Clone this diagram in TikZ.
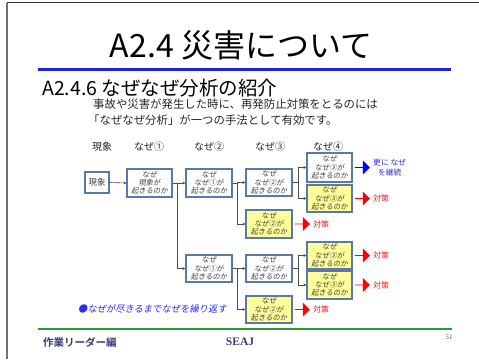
\documentclass[tikz,border=0pt]{standalone}
\usepackage{fontspec}
\setmainfont{Noto Sans CJK JP}
\newfontfamily\jpit[FakeSlant=0.18]{Noto Sans CJK JP}
\newfontfamily\jpbold{Noto Sans CJK JP Bold}
\newfontfamily\serifb{Liberation Serif}
\usetikzlibrary{arrows.meta,positioning,shapes.arrows}
\definecolor{boxline}{HTML}{5A78A8}
\definecolor{boxyel}{HTML}{FFFF99}
\definecolor{titleblue}{HTML}{1E1EE6}
\definecolor{footgreen}{HTML}{2E9A2E}
\definecolor{navy}{HTML}{3A3A78}
\definecolor{txtblue}{HTML}{2A2AF0}
\definecolor{txtred}{HTML}{F01E1E}
\tikzset{
  nbox/.style={draw=boxline, line width=1.1pt, fill=white, inner sep=0pt,
    minimum width=46pt, minimum height=28pt, align=center,
    font=\jpit\fontsize{7.3}{8.3}\selectfont, text=black!75},
  ybox/.style={nbox, fill=boxyel},
  conn/.style={draw=black!70, line width=0.6pt, -{Stealth[length=3pt,width=3pt]}},
  plain/.style={draw=black!70, line width=0.6pt},
  redarr/.style={single arrow, fill=red, draw=none, minimum height=15pt,
    minimum width=14pt, single arrow head extend=3pt, inner sep=0pt},
  bluearr/.style={redarr, fill=blue},
  taisaku/.style={text=txtred, font=\fontsize{8}{9}\selectfont, inner sep=0pt},
  hdr/.style={font=\fontsize{10}{12}\selectfont, text=black!85}
}
\begin{document}
\begin{tikzpicture}[x=1pt,y=-1pt]
\useasboundingbox (0,0) rectangle (479,359);
% frame
\draw[black!80, line width=1pt] (7,2.5) -- (479,2.5);
\draw[black!55, line width=1.5pt] (7,2.5) -- (7,359);
% title
\node[font=\fontsize{32}{36}\selectfont] (title) at (241,45) {A2.4 災害について};
\draw[titleblue, line width=3pt] (38,69.5) -- (451,69.5);
\node[font=\fontsize{19.5}{24}\selectfont, anchor=west, inner sep=0pt] (sub) at (42,88) {A2.4.6 なぜなぜ分析の紹介};
\node[font=\fontsize{11.4}{13}\selectfont, anchor=west, inner sep=0pt, text=black!85] (l1) at (93,104) {事故や災害が発生した時に、再発防止対策をとるのには};
\node[font=\fontsize{11.4}{13}\selectfont, anchor=west, inner sep=0pt, text=black!85] (l2) at (88,120) {「なぜなぜ分析」が一つの手法として有効です。};
% headers
\node[hdr] (h0) at (102,147) {現象};
\node[hdr] (h1) at (149,147) {なぜ①};
\node[hdr] (h2) at (209,147) {なぜ②};
\node[hdr] (h3) at (270,147) {なぜ③};
\node[hdr] (h4) at (328,147) {なぜ④};
% boxes
\node[nbox, minimum width=24pt, minimum height=21pt, font=\fontsize{8.5}{10}\selectfont] (G) at (97,182.5) {現象};
\node[nbox, minimum width=45pt] (A) at (149.5,183) {なぜ\\現象が\\起きるのか};
\node[nbox] (B1) at (209,183) {なぜ\\なぜ①が\\起きるのか};
\node[nbox, minimum height=27pt] (B2) at (209,268.5) {なぜ\\なぜ①が\\起きるのか};
\node[nbox, minimum height=27pt] (C1) at (269,182.5) {なぜ\\なぜ②が\\起きるのか};
\node[ybox] (C2) at (269,224) {なぜ\\なぜ②が\\起きるのか};
\node[nbox, minimum height=27pt] (C3) at (269,268.5) {なぜ\\なぜ②が\\起きるのか};
\node[ybox, minimum height=27pt] (C4) at (269,309.5) {なぜ\\なぜ②が\\起きるのか};
\node[nbox, minimum width=45pt, minimum height=29pt] (D1) at (329.5,167.5) {なぜ\\なぜ③が\\起きるのか};
\node[ybox, minimum width=45pt, minimum height=27pt] (D2) at (329.5,198.5) {なぜ\\なぜ③が\\起きるのか};
\node[ybox, minimum width=45pt, minimum height=27pt] (D3) at (329.5,255.5) {なぜ\\なぜ③が\\起きるのか};
\node[ybox, minimum width=45pt, minimum height=28pt] (D4) at (329.5,285) {なぜ\\なぜ③が\\起きるのか};
% connectors
\draw[conn] (G.east) -- (A.west);
\draw[conn] (A.east) -- (B1.west);
\draw[plain] (A.east) -- ++(5,0) coordinate (ja);
\draw[conn] (ja) |- (B2.west);
\draw[plain] (B1.east) -- ++(5,0) coordinate (jb1);
\draw[conn] (jb1) |- (C1.west);
\draw[conn] (jb1) |- (C2.west);
\draw[plain] (B2.east) -- ++(5,0) coordinate (jb2);
\draw[conn] (jb2) |- (C3.west);
\draw[conn] (jb2) |- (C4.west);
\draw[plain] (C1.east) -- ++(6,0) coordinate (jc1);
\draw[conn] (jc1) |- (D1.west);
\draw[conn] (jc1) |- (D2.west);
\draw[plain] (C3.east) -- ++(6,0) coordinate (jc3);
\draw[conn] (jc3) |- (D3.west);
\draw[conn] (jc3) |- (D4.west);
% big arrows and labels
\node[bluearr, right=2pt of D1] (aD1) {};
\node[text=txtblue, font=\fontsize{7.8}{10}\selectfont, align=center, inner sep=0pt, right=3pt of aD1] (tD1) {更に なぜ\\を継続};
\node[redarr, right=2pt of D2] (aD2) {};
\node[taisaku, right=3pt of aD2] (tD2) {対策};
\node[redarr, right=2pt of C2] (aC2) {};
\node[taisaku, right=3pt of aC2] (tC2) {対策};
\node[redarr, right=2pt of D3] (aD3) {};
\node[taisaku, right=3pt of aD3] (tD3) {対策};
\node[redarr, right=2pt of D4] (aD4) {};
\node[taisaku, right=3pt of aD4] (tD4) {対策};
\node[redarr, right=2pt of C4] (aC4) {};
\node[taisaku, right=3pt of aC4] (tC4) {対策};
% note
\node[anchor=west, inner sep=0pt, text=txtblue, font=\jpit\fontsize{9.3}{11}\selectfont] (note) at (78,309) {●なぜが尽きるまでなぜを繰り返す};
% footer
\draw[footgreen, line width=2.5pt] (38,329) -- (452,329);
\node[anchor=west, inner sep=0pt, text=navy, font=\jpbold\fontsize{10.5}{12}\selectfont] (f1) at (43,342) {作業リーダー編};
\node[inner sep=0pt, text=navy, font=\serifb\bfseries\fontsize{11.5}{13}\selectfont] (f2) at (240,342) {SEAJ};
\node[inner sep=0pt, text=black!70, font=\serifb\itshape\fontsize{7}{8}\selectfont] (f3) at (449,337) {51};
\end{tikzpicture}
\end{document}
